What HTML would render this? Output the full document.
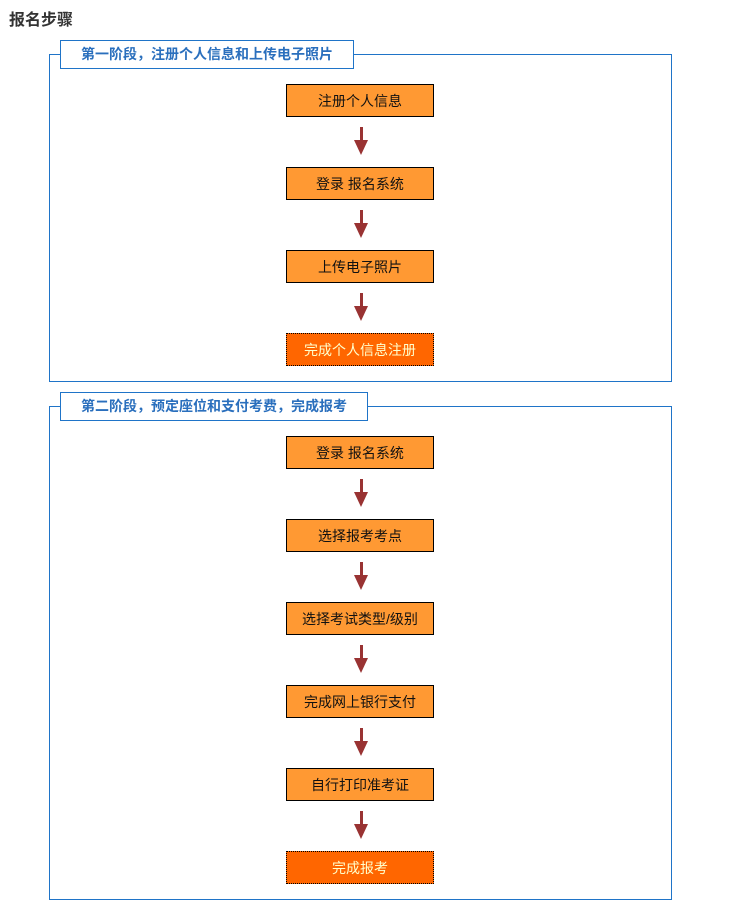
<!DOCTYPE html>
<html><head><meta charset="utf-8"><style>
body{margin:0;background:#fff;width:734px;height:918px;position:relative;overflow:hidden;font-family:"Liberation Sans","Noto Sans CJK SC",sans-serif;}
.abs{position:absolute;box-sizing:border-box;}
.fs{border:1px solid #1f74c8;}
.lg{border:1px solid #1f74c8;background:#fff;color:#2a6fbd;font-weight:bold;font-size:14px;text-align:center;line-height:27px;}
.bx{left:286px;width:148px;height:33px;background:#ff9933;border:1px solid #000;font-size:14px;line-height:33px;text-align:center;color:#111;}
.fin{background:#ff6600;border:1px dotted #000;color:#ffffcc;}
.sh{left:360px;width:3px;height:14px;background:#993333;}
.hd{left:354px;width:0;height:0;border-left:7px solid transparent;border-right:7px solid transparent;border-top:15px solid #993333;}
</style></head><body>
<div class="abs" style="left:9px;top:6px;font-size:16px;font-weight:bold;color:#333;">报名步骤</div>

<div class="abs fs" style="left:49px;top:54px;width:623px;height:328px;"></div>
<div class="abs lg" style="left:60px;top:40px;width:294px;height:29px;">第一阶段，注册个人信息和上传电子照片</div>

<div class="abs fs" style="left:49px;top:406px;width:623px;height:494px;"></div>
<div class="abs lg" style="left:60px;top:392px;width:308px;height:29px;">第二阶段，预定座位和支付考费，完成报考</div>

<div class="abs bx" style="top:84px;">注册个人信息</div>
<div class="abs sh" style="top:127px;"></div><div class="abs hd" style="top:140px;"></div>
<div class="abs bx" style="top:167px;">登录 报名系统</div>
<div class="abs sh" style="top:210px;"></div><div class="abs hd" style="top:223px;"></div>
<div class="abs bx" style="top:250px;">上传电子照片</div>
<div class="abs sh" style="top:293px;"></div><div class="abs hd" style="top:306px;"></div>
<div class="abs bx fin" style="top:333px;">完成个人信息注册</div>

<div class="abs bx" style="top:436px;">登录 报名系统</div>
<div class="abs sh" style="top:479px;"></div><div class="abs hd" style="top:492px;"></div>
<div class="abs bx" style="top:519px;">选择报考考点</div>
<div class="abs sh" style="top:562px;"></div><div class="abs hd" style="top:575px;"></div>
<div class="abs bx" style="top:602px;">选择考试类型/级别</div>
<div class="abs sh" style="top:645px;"></div><div class="abs hd" style="top:658px;"></div>
<div class="abs bx" style="top:685px;">完成网上银行支付</div>
<div class="abs sh" style="top:728px;"></div><div class="abs hd" style="top:741px;"></div>
<div class="abs bx" style="top:768px;">自行打印准考证</div>
<div class="abs sh" style="top:811px;"></div><div class="abs hd" style="top:824px;"></div>
<div class="abs bx fin" style="top:851px;">完成报考</div>
</body></html>
